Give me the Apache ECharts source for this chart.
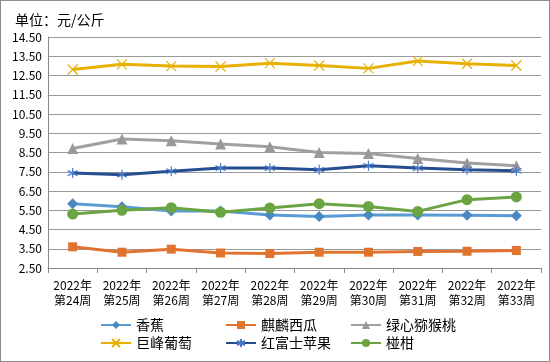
<!DOCTYPE html>
<html>
<head>
<meta charset="utf-8">
<script src="https://cdn.jsdelivr.net/npm/echarts@6/dist/echarts.min.js"></script>
<style>
html,body{margin:0;padding:0;background:#fff;}
#wrap{position:absolute;left:0;top:0;width:548px;height:360px;border:1px solid #8c8c8c;}
#chart{width:548px;height:360px;}
</style>
</head>
<body>
<div id="wrap"><div id="chart"></div></div>
<script>
var categories = ['2022年\n第24周','2022年\n第25周','2022年\n第26周','2022年\n第27周','2022年\n第28周','2022年\n第29周','2022年\n第30周','2022年\n第31周','2022年\n第32周','2022年\n第33周'];
var banana = [5.84, 5.68, 5.46, 5.46, 5.25, 5.18, 5.25, 5.25, 5.24, 5.22];
var watermelon = [3.60, 3.32, 3.48, 3.28, 3.25, 3.32, 3.32, 3.36, 3.37, 3.41];
var kiwi = [8.71, 9.20, 9.11, 8.94, 8.80, 8.50, 8.45, 8.19, 7.96, 7.81];
var grape = [12.81, 13.08, 12.99, 12.97, 13.14, 13.02, 12.87, 13.25, 13.11, 13.02];
var apple = [7.43, 7.34, 7.53, 7.69, 7.69, 7.60, 7.81, 7.69, 7.60, 7.55];
var tangerine = [5.30, 5.50, 5.63, 5.39, 5.62, 5.84, 5.70, 5.44, 6.05, 6.19];
var yTicks = ['2.50','3.50','4.50','5.50','6.50','7.50','8.50','9.50','10.50','11.50','12.50','13.50','14.50'];

var FONT = "'Noto Sans CJK SC', sans-serif";
var xPath = 'path://M0,0L10,10M10,0L0,10';
var starPath = 'path://M5,0L5,10M0.7,2.5L9.3,7.5M9.3,2.5L0.7,7.5';

function mk(name, data, color, symbol, size, extra) {
  var s = {
    name: name, type: 'line', data: data,
    symbol: symbol, symbolSize: size,
    lineStyle: {width: 3, color: color},
    itemStyle: {color: color},
    emphasis: {disabled: true},
    z: 3
  };
  if (extra) Object.assign(s, extra);
  return s;
}

var chart = echarts.init(document.getElementById('chart'));
var legendBase = {
  orient: 'vertical', itemWidth: 30, itemHeight: 10, itemGap: 4,
  textStyle: {fontFamily: FONT, fontSize: 14, color: '#000'},
  top: 312
};
chart.setOption({
  animation: false,
  textStyle: {fontFamily: FONT},
  title: {
    text: '单位：元/公斤', left: 9, top: 7,
    textStyle: {fontFamily: FONT, fontSize: 14, fontWeight: 'normal', color: '#000'}
  },
  legend: [
    Object.assign({}, legendBase, {left: 94, data: ['香蕉','巨峰葡萄']}),
    Object.assign({}, legendBase, {left: 219, data: ['麒麟西瓜','红富士苹果']}),
    Object.assign({}, legendBase, {left: 344, data: ['绿心猕猴桃','椪柑']})
  ],
  grid: {left: 47, right: 8, top: 36, bottom: 93},
  xAxis: {
    type: 'category', data: categories, boundaryGap: true,
    axisLine: {lineStyle: {color: '#888', width: 1}},
    axisTick: {show: true, length: 5, lineStyle: {color: '#888'}},
    axisLabel: {fontFamily: FONT, fontSize: 12, color: '#000', lineHeight: 15, margin: 10, interval: 0}
  },
  yAxis: {
    type: 'value', min: 2.5, max: 14.5, interval: 1,
    axisLine: {show: true, lineStyle: {color: '#888'}},
    axisTick: {show: false},
    splitLine: {lineStyle: {color: '#999', width: 1}},
    axisLabel: {
      fontFamily: FONT, fontSize: 12, color: '#000', margin: 6,
      formatter: function (v) { return yTicks[Math.round(v - 2.5)]; }
    }
  },
  series: [
    mk('香蕉', banana, '#5B9BD5', 'diamond', 11, {itemStyle: {color: '#4A88C4'}}),
    mk('麒麟西瓜', watermelon, '#E0742E', 'rect', 9),
    mk('绿心猕猴桃', kiwi, '#A0A0A0', 'triangle', 11, {itemStyle: {color: '#999'}}),
    mk('巨峰葡萄', grape, '#E8B000', xPath, 10, {itemStyle: {color: 'none', borderColor: '#E8B000', borderWidth: 1.2}}),
    mk('红富士苹果', apple, '#264F91', starPath, 10, {itemStyle: {color: 'none', borderColor: '#4A78C8', borderWidth: 1.2}}),
    mk('椪柑', tangerine, '#6AA443', 'circle', 11)
  ]
});
</script>
</body>
</html>
